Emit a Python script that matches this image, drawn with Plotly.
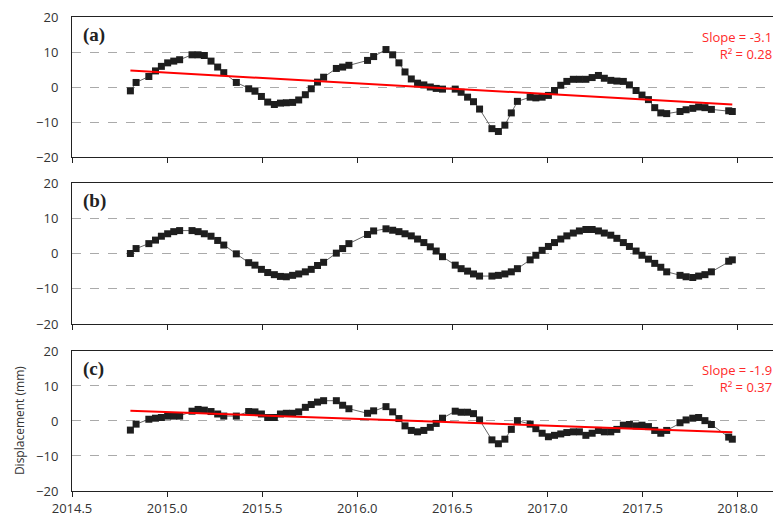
import plotly.graph_objects as go

# ===================== Data =====================

dates = [2014.807, 2014.837, 2014.904, 2014.939, 2014.970, 2015.003, 2015.035, 2015.066,
         2015.131, 2015.163, 2015.196, 2015.231, 2015.266, 2015.298, 2015.364, 2015.429,
         2015.462, 2015.496, 2015.529, 2015.564, 2015.596, 2015.627, 2015.660, 2015.692,
         2015.727, 2015.758, 2015.791, 2015.823, 2015.890, 2015.923, 2015.956, 2016.054,
         2016.086, 2016.151, 2016.186, 2016.219, 2016.251, 2016.284, 2016.317, 2016.350,
         2016.384, 2016.415, 2016.448, 2016.515, 2016.546, 2016.580, 2016.611, 2016.643,
         2016.708, 2016.742, 2016.776, 2016.810, 2016.842, 2016.909, 2016.939, 2016.972,
         2017.005, 2017.037, 2017.070, 2017.102, 2017.136, 2017.168, 2017.202, 2017.235,
         2017.268, 2017.299, 2017.333, 2017.365, 2017.399, 2017.431, 2017.466, 2017.497,
         2017.531, 2017.564, 2017.596, 2017.627, 2017.697, 2017.729, 2017.764, 2017.795,
         2017.828, 2017.862, 2017.953, 2017.972]

disp_a = [-1.1, 1.3, 3.0, 4.6, 5.9, 6.9, 7.4, 7.8, 9.2, 9.2, 9.0, 7.4, 5.7, 4.1, 1.3, -0.5,
          -1.2, -2.7, -4.3, -5.0, -4.6, -4.5, -4.4, -3.7, -2.2, -0.5, 1.4, 2.8, 5.3, 5.7, 6.2, 7.6,
          8.7, 10.7, 9.2, 6.9, 4.3, 2.3, 1.1, 0.6, 0.0, -0.4, -0.6, -0.6, -1.5, -2.9, -4.2, -6.3,
          -11.9, -12.7, -10.9, -7.4, -4.1, -2.9, -3.1, -2.9, -2.4, -1.0, 0.5, 1.6, 2.2, 2.2, 2.2, 2.7,
          3.3, 2.5, 1.9, 1.7, 1.6, 0.6, -1.0, -2.3, -3.6, -5.9, -7.4, -7.6, -7.0, -6.5, -6.1, -5.7,
          -5.9, -6.4, -6.8, -7.0]

disp_b = [0.0, 1.4, 2.8, 3.8, 4.9, 5.6, 6.2, 6.5, 6.5, 6.2, 5.6, 4.9, 3.7, 2.4, -0.1, -2.6,
          -3.3, -4.5, -5.4, -6.0, -6.5, -6.6, -6.2, -5.8, -5.2, -4.5, -3.4, -2.5, 0.1, 1.4, 2.8, 5.4,
          6.4, 7.0, 6.6, 6.2, 5.6, 5.0, 4.1, 3.1, 1.9, 0.7, -0.9, -3.3, -4.3, -5.0, -5.8, -6.4,
          -6.4, -6.2, -5.8, -5.2, -4.3, -1.8, -0.5, 0.9, 2.0, 3.1, 4.1, 5.0, 5.8, 6.4, 6.8, 6.8,
          6.4, 5.8, 5.2, 4.3, 3.1, 2.0, 0.7, -0.5, -1.6, -2.8, -3.9, -5.2, -6.2, -6.6, -6.8, -6.4,
          -6.0, -5.2, -2.2, -1.8]

disp_c = [-2.6, -0.9, 0.5, 0.8, 1.0, 1.4, 1.4, 1.4, 2.8, 3.3, 3.1, 2.7, 2.0, 1.4, 1.4, 2.7,
          2.6, 2.0, 1.0, 1.0, 2.0, 2.2, 2.2, 2.6, 3.9, 4.7, 5.4, 5.8, 5.8, 4.5, 3.5, 2.2,
          2.9, 4.1, 2.6, 0.7, -1.4, -2.7, -3.1, -2.7, -1.8, -0.7, 0.8, 2.8, 2.5, 2.5, 2.1, 0.3,
          -5.4, -6.5, -5.2, -2.4, 0.1, -0.9, -2.2, -3.5, -4.5, -4.1, -3.7, -3.3, -3.1, -3.1, -4.1, -3.5,
          -2.7, -3.1, -3.1, -2.4, -1.2, -1.0, -1.4, -1.2, -1.6, -2.7, -3.5, -2.7, -0.5, 0.3, 0.8, 1.0,
          0.1, -1.0, -4.6, -5.2]

# trend lines (end points) and their labels
trend_x = [2014.807, 2017.972]
trend_a = [4.7, -5.0]
trend_c = [2.9, -3.2]

panel_labels = ["(a)", "(b)", "(c)"]
stats_a = ["Slope = -3.1", "R² = 0.28"]
stats_c = ["Slope = -1.9", "R² = 0.37"]

x_ticks = [2014.5, 2015.0, 2015.5, 2016.0, 2016.5, 2017.0, 2017.5, 2018.0]
y_ticks = [-20, -10, 0, 10, 20]

# =================== Figure ===================

FONT = "Open Sans"
TXT = "#333333"

panels = [disp_a, disp_b, disp_c]
trends = [trend_a, None, trend_c]
stats = [stats_a, None, stats_c]
domains = [[0.7046, 1.0], [0.3523, 0.6498], [0.0, 0.2954]]

fig = go.Figure()

for i, vals in enumerate(panels):
    xa = "x" if i == 0 else f"x{i + 1}"
    ya = "y" if i == 0 else f"y{i + 1}"

    fig.add_trace(go.Scatter(
        x=dates, y=vals, mode="lines+markers",
        line=dict(color="#666666", width=1),
        marker=dict(symbol="square", size=7, color="#1e1e1e"),
        xaxis=xa, yaxis=ya, showlegend=False
    ))

    if trends[i] is not None:
        fig.add_trace(go.Scatter(
            x=trend_x, y=trends[i], mode="lines",
            line=dict(color="#ff0000", width=2),
            xaxis=xa, yaxis=ya, showlegend=False
        ))

    fig.add_annotation(
        text=f"<b>{panel_labels[i]}</b>", xref=f"{xa} domain", yref=f"{ya} domain",
        x=0.012, y=0.87, xanchor="left", yanchor="middle", showarrow=False,
        font=dict(family="Liberation Serif", size=19, color="#222222")
    )

    if stats[i] is not None:
        fig.add_annotation(
            text="<br>".join(stats[i]), xref=f"{xa} domain", yref=f"{ya} domain",
            x=0.99, y=0.80, xanchor="right", yanchor="middle", align="right",
            showarrow=False, bgcolor="white",
            font=dict(family=FONT, size=13, color="#ff2a2a")
        )

    xaxis = dict(
        domain=[0, 1], anchor=ya, range=[2014.5, 2018.228],
        tickvals=x_ticks, ticktext=[f"{v:.1f}" for v in x_ticks],
        showticklabels=(i == 2), ticks="outside", ticklen=5, tickcolor="#222222",
        showline=True, linecolor="#222222", linewidth=1, mirror=True,
        showgrid=False, zeroline=False, ticklabeloverflow="allow",
        tickfont=dict(family=FONT, size=13, color=TXT)
    )
    yaxis = dict(
        domain=domains[i], anchor=xa, range=[-20, 20], tickvals=y_ticks,
        showline=True, linecolor="#222222", linewidth=1, ticks="",
        showgrid=True, gridcolor="#aaaaaa", griddash="dash", gridwidth=1,
        zeroline=False, ticklabelstandoff=10, ticklabeloverflow="allow",
        tickfont=dict(family=FONT, size=13, color=TXT)
    )
    key = "" if i == 0 else str(i + 1)
    fig.update_layout(**{f"xaxis{key}": xaxis, f"yaxis{key}": yaxis})

fig.add_annotation(
    text="Displacement (mm)", xref="paper", yref="paper",
    x=-0.073, y=0.148, xanchor="center", yanchor="middle",
    textangle=-90, showarrow=False,
    font=dict(family=FONT, size=12, color=TXT)
)

# the page body adds an 8px offset, so the figure is 8px smaller and shifted margins
fig.update_layout(
    width=773, height=509,
    margin=dict(l=64, r=0, t=9, b=26),
    paper_bgcolor="white", plot_bgcolor="white",
    showlegend=False
)

fig.write_html("out.html")
